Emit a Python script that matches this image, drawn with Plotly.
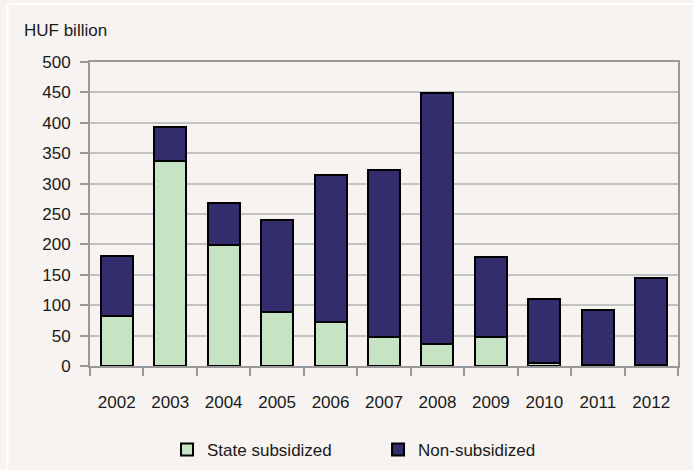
import plotly.graph_objects as go

years = ["2002", "2003", "2004", "2005", "2006", "2007", "2008", "2009", "2010", "2011", "2012"]
state_subsidized = [82, 338, 199, 89, 73, 48, 36, 48, 5, 1, 1]
non_subsidized = [99, 55, 69, 151, 241, 274, 413, 131, 105, 91, 143]
y_ticks = [0, 50, 100, 150, 200, 250, 300, 350, 400, 450, 500]

FONT = "Liberation Sans, Arial, sans-serif"
BG = "#F6F3F0"

fig = go.Figure()
fig.add_trace(go.Bar(x=years, y=state_subsidized, name="State subsidized",
                     marker=dict(color="#C6E3C3", line=dict(color="#000000", width=2))))
fig.add_trace(go.Bar(x=years, y=non_subsidized, name="Non-subsidized",
                     marker=dict(color="#332D6E", line=dict(color="#000000", width=2))))

fig.update_layout(
    width=693, height=470,
    barmode="stack", bargap=0.4,
    paper_bgcolor=BG, plot_bgcolor=BG,
    margin=dict(l=90, r=15, t=62, b=104, autoexpand=False),
    font=dict(family=FONT, size=17, color="#1a1a1a"),
    showlegend=True,
    legend=dict(orientation="h", x=0.131, xanchor="left", xref="paper",
                y=0.0426, yanchor="middle", yref="container",
                font=dict(size=17), entrywidth=166, entrywidthmode="pixels",
                traceorder="normal", bgcolor="rgba(0,0,0,0)"),
    xaxis=dict(showgrid=False, showline=True, linecolor="#999999", linewidth=2, mirror=True,
               ticks="outside", tickson="boundaries", ticklen=8, tickwidth=2, tickcolor="#999999",
               ticklabelstandoff=20, automargin=False, fixedrange=True),
    yaxis=dict(range=[0, 500], tickvals=y_ticks, showgrid=True, gridcolor="#C2C2C2", gridwidth=2,
               showline=True, linecolor="#999999", linewidth=2, mirror=True,
               ticks="outside", ticklen=8, tickwidth=2, tickcolor="#999999",
               ticklabelstandoff=6, zeroline=False, automargin=False, fixedrange=True),
    annotations=[dict(text="HUF billion", xref="paper", yref="paper", x=-0.115, y=1.105,
                      xanchor="left", yanchor="middle", showarrow=False,
                      font=dict(size=17))],
    shapes=[
        dict(type="line", xref="paper", yref="paper", x0=-0.14, x1=1.1, y0=1.19, y1=1.19,
             line=dict(color="white", width=2)),
        dict(type="line", xref="paper", yref="paper", x0=-0.1403, x1=-0.1403, y0=1.19, y1=-0.4,
             line=dict(color="white", width=2)),
    ],
)
fig.write_html("out.html")
